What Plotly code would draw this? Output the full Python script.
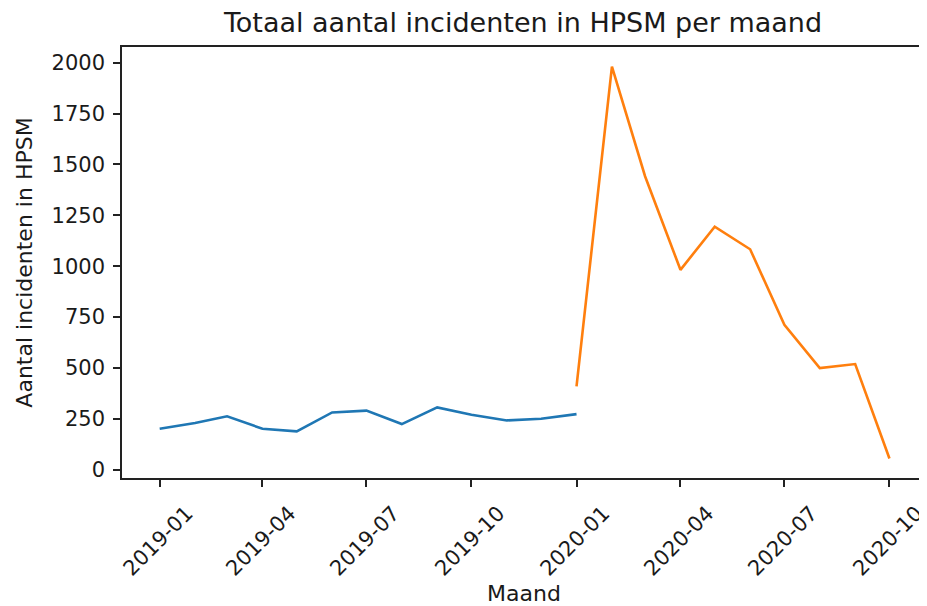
import plotly.graph_objects as go

months_2019 = ["2019-01-01", "2019-02-01", "2019-03-01", "2019-04-01", "2019-05-01",
               "2019-06-01", "2019-07-01", "2019-08-01", "2019-09-01", "2019-10-01",
               "2019-11-01", "2019-12-01", "2020-01-01"]
values_2019 = [201, 229, 262, 201, 188, 281, 290, 224, 306, 270, 242, 250, 273]

months_2020 = ["2020-01-01", "2020-02-01", "2020-03-01", "2020-04-01", "2020-05-01",
               "2020-06-01", "2020-07-01", "2020-08-01", "2020-09-01", "2020-10-01"]
values_2020 = [409, 1981, 1442, 982, 1194, 1083, 712, 499, 519, 55]

tick_vals = ["2019-01-01", "2019-04-01", "2019-07-01", "2019-10-01",
             "2020-01-01", "2020-04-01", "2020-07-01", "2020-10-01"]
tick_text = ["2019-01", "2019-04", "2019-07", "2019-10",
             "2020-01", "2020-04", "2020-07", "2020-10"]
y_ticks = [0, 250, 500, 750, 1000, 1250, 1500, 1750, 2000]

fig = go.Figure()
fig.add_trace(go.Scatter(x=months_2019, y=values_2019, mode="lines",
                         line=dict(color="#1f77b4", width=2.6), showlegend=False))
fig.add_trace(go.Scatter(x=months_2020, y=values_2020, mode="lines",
                         line=dict(color="#ff7f0e", width=2.6), showlegend=False))

font = "DejaVu Sans"
fs = 21
W = 927
H = 598
fig.update_layout(
    width=W, height=H,
    margin=dict(l=114, r=9, t=39, b=128, autoexpand=False),
    paper_bgcolor="white", plot_bgcolor="white",
    font=dict(family=font, size=fs, color="#1a1a1a"),
    title=dict(text="Totaal aantal incidenten in HPSM per maand", x=(523 - 8) / W, xanchor="center",
               y=1 - (23 - 8) / H, yanchor="middle", font=dict(size=27, color="#1a1a1a")),
)
fig.update_xaxes(
    type="date", range=["2018-11-29", "2020-11-02"],
    tickvals=tick_vals, ticktext=tick_text, tickangle=-45,
    ticklabelshift=27, ticklabelstandoff=6, ticklabeloverflow="allow",
    ticks="outside", ticklen=7, tickwidth=1.5, tickcolor="#222",
    showline=True, linecolor="#222", linewidth=1.5, mirror=True,
    showgrid=False, zeroline=False, automargin=False,
    title=dict(text="Maand", standoff=10, font=dict(size=22)),
    tickfont=dict(size=fs),
)
fig.update_yaxes(
    range=[-41, 2077], tickvals=y_ticks,
    ticks="outside", ticklen=7, tickwidth=1.5, tickcolor="#222",
    ticklabelstandoff=4,
    showline=True, linecolor="#222", linewidth=1.5, mirror=True,
    showgrid=False, zeroline=False, automargin=False,
    title=dict(text="Aantal incidenten in HPSM", standoff=13, font=dict(size=22)),
    tickfont=dict(size=fs),
)
fig.write_html("out.html")
